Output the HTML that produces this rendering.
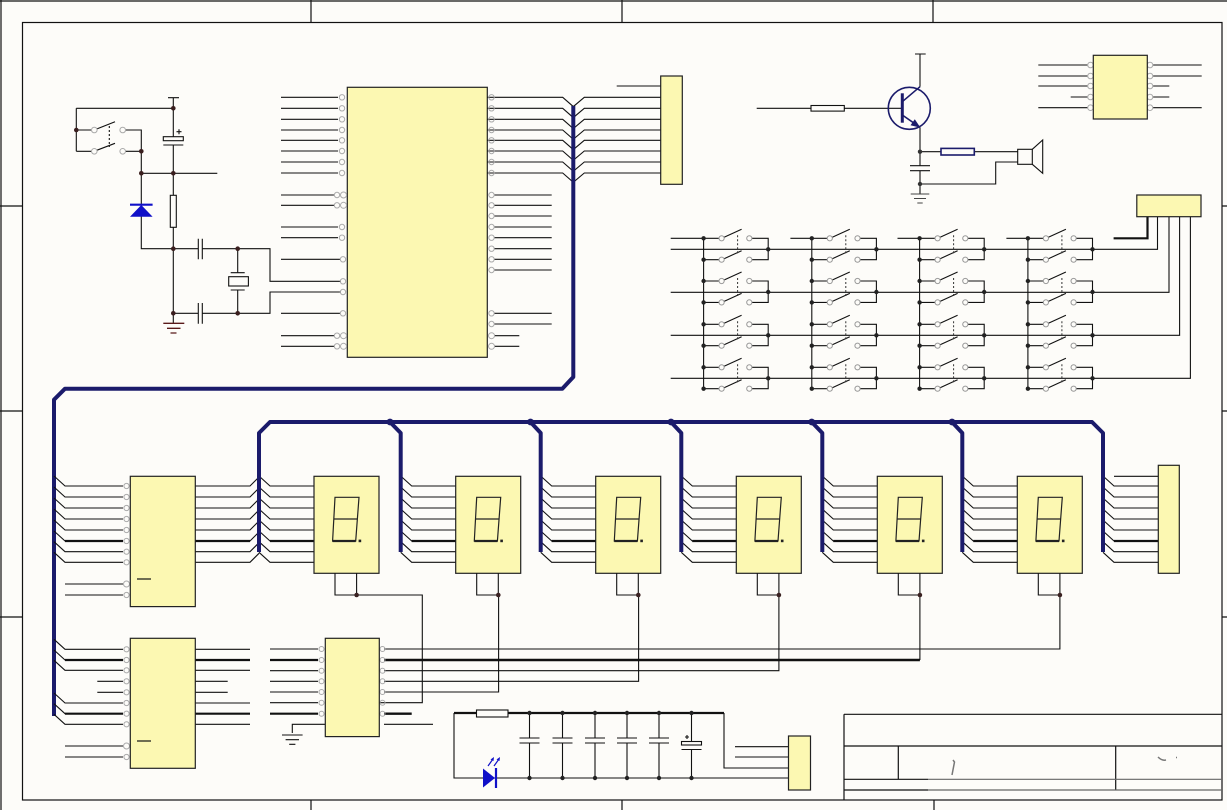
<!DOCTYPE html>
<html><head><meta charset="utf-8">
<style>html,body{margin:0;padding:0;background:#fdfcf9;overflow:hidden}svg{display:block}</style>
</head>
<body>
<svg width="1227" height="810" viewBox="0 0 1227 810" xmlns="http://www.w3.org/2000/svg">
<defs>
  <g id="disp">
    <path d="M0 476L11 486H55 M0 487L11 497H55 M0 498L11 508H55 M0 509L11 519H55 M0 520L11 530H55 M0 531L11 541H55 M0 541.7L11 551.7H55 M0 552.3L11 562.3H55" fill="none" stroke="#111" stroke-width="1.1"/>
    <path d="M11 541H55" stroke="#111" stroke-width="2.2"/>
    <rect x="55" y="476.3" width="65" height="97" fill="#fcf8b2" stroke="#222" stroke-width="1.2"/>
    <path d="M76 497.3H100L96.7 541H73.6Z M74.8 519H98.3" fill="none" stroke="#222" stroke-width="1.2"/>
    <path d="M73.6 541H96.7" stroke="#222" stroke-width="2.2"/>
    <rect x="99.6" y="539.6" width="2.6" height="2.6" fill="#222"/>
    <path d="M76 573.3V595H97.6V573.3" fill="none" stroke="#111" stroke-width="1.1"/>
    <circle cx="97.6" cy="595" r="2.3" fill="#3a2222"/>
  </g>
  <g id="sw">
    <path d="M0 0H15.4 M0 21.4H15.4 M20.5 -1L38 -9 M20.5 20.4L38 12.4 M48.3 0H64.6V21.4H48.3" fill="none" stroke="#111" stroke-width="1.1"/>
    <path d="M34 -3V17" fill="none" stroke="#333" stroke-width="1" stroke-dasharray="2 2"/>
    <g fill="none" stroke="#999" stroke-width="1">
      <circle cx="18" cy="0" r="2.6"/><circle cx="18" cy="21.4" r="2.6"/>
      <circle cx="45.7" cy="0" r="2.6"/><circle cx="45.7" cy="21.4" r="2.6"/>
    </g>
    <g fill="#222"><circle cx="0" cy="0" r="2.2"/><circle cx="0" cy="21.4" r="2.2"/><circle cx="64.6" cy="11" r="2.2"/></g>
  </g>
</defs>

<rect width="1227" height="810" fill="#fdfcf9"/>

<!-- frame -->
<g fill="none" stroke="#111" stroke-width="1.2">
  <path d="M0 1H1227 M1 0V810"/>
  <rect x="22.5" y="22.5" width="1199.5" height="777.5"/>
  <path d="M311 0V22 M622 0V22 M933 0V22 M311 800V810 M622 800V810 M934 800V810 M0 206H22 M0 411H22 M0 617H22 M1222 206H1227 M1222 411H1227 M1222 617H1227"/>
</g>

<!-- title block -->
<g fill="none" stroke="#111" stroke-width="1.2">
  <path d="M844 714.3H1222 M844 714.3V800 M844 746H1222 M898.3 746V779.3 M1115.7 746V790 M844 779.3H928 M844 790H928"/>
  <path d="M928 779.3H1222 M928 790H1222" stroke="#666"/>
  <path d="M953 760L954.5 762L952 775 M1158 757Q1162 761 1166 760 M1176 757.5h1" stroke="#777" stroke-width="1.5"/>
</g>

<!-- top-left reset / crystal circuit -->
<g fill="none" stroke="#111" stroke-width="1.1">
  <path d="M168 97.7H179 M173.3 97.7V136.7 M173.3 145V195.3 M173.3 227.3V323.3"/>
  <rect x="163.3" y="136.7" width="20" height="4"/>
  <path d="M163.3 145H183.3"/>
  <path d="M176.5 131.7H181.5 M179 129.2V134.2"/>
  <path d="M76.3 108.3H173.3 M76.3 108.3V151.3 M76.3 130H91.6 M76.3 151.3H91.6"/>
  <path d="M96.7 129L115 121.7 M96.7 150.3L115 143.3"/>
  <path d="M109.3 126V147" stroke-dasharray="2 2"/>
  <path d="M125.5 130H141.3V248.7H173.3 M125.5 151.3H141.3 M141.3 173.3H217.3"/>
  <rect x="170.3" y="195.3" width="6" height="32" fill="#fdfcf9"/>
  <path d="M173.3 248.7H198.3 M202.3 248.7H270V281.3H341 M173.3 313.3H198.3 M202.3 313.3H270V292H341"/>
  <path d="M198.3 238.7V259.3 M202.3 238.7V259.3 M198.3 303V323.7 M202.3 303V323.7"/>
  <path d="M237.7 248.7V272.7 M230.7 272.7H244.7 M230.7 290H244.7 M237.7 290V313.3"/>
  <rect x="228.7" y="276.7" width="19.7" height="9.3"/>
  <path d="M163.3 323.3H184.3 M167 328.3H180.5 M170.5 333H176.5" stroke="#5a1a1a" stroke-width="1.3"/>
</g>
<g fill="none" stroke="#aaa" stroke-width="1">
  <circle cx="94.3" cy="130" r="2.8"/><circle cx="94.3" cy="151.3" r="2.8"/>
  <circle cx="122.7" cy="130" r="2.8"/><circle cx="122.7" cy="151.3" r="2.8"/>
</g>
<polygon points="141.3,205 130,216.7 152.6,216.7" fill="#1010c8"/>
<path d="M130 204.7H152.6" stroke="#1010c8" stroke-width="2.2"/>
<g fill="#3a1e1e">
  <circle cx="76.3" cy="130" r="2.3"/><circle cx="141.3" cy="151.3" r="2.3"/><circle cx="141.3" cy="173.3" r="2.3"/>
  <circle cx="173.3" cy="173.3" r="2.3"/><circle cx="173.3" cy="108.3" r="2.3"/><circle cx="173.3" cy="248.7" r="2.3"/>
  <circle cx="237.7" cy="248.7" r="2.3"/><circle cx="173.3" cy="313.3" r="2.3"/><circle cx="237.7" cy="313.3" r="2.3"/>
</g>

<!-- main IC -->
<rect x="347.3" y="87.3" width="140" height="270" fill="#fcf8b2" stroke="#222" stroke-width="1.2"/>
<g fill="none" stroke="#111" stroke-width="1.1">
  <path d="M281 97.3H338 M281 108.3H338 M281 119.3H338 M281 130H338 M281 140.3H338 M281 151H338 M281 162H338 M281 173H338 M281 195H334 M281 205.3H334 M281 227H338 M281 237.7H338 M281 259.3H340 M281 313.3H340 M281 335.7H334 M281 346.3H334"/>
  <path d="M487.3 97.3H562.7L573.3 106.6L584.3 97.3H660.7 M487.3 108.3H562.7L573.3 117.6L584.3 108.3H660.7 M487.3 119.3H562.7L573.3 128.6L584.3 119.3H660.7 M487.3 130H562.7L573.3 139.3L584.3 130H660.7 M487.3 140.3H562.7L573.3 149.6L584.3 140.3H660.7 M487.3 151H562.7L573.3 160.3L584.3 151H660.7 M487.3 162H562.7L573.3 171.3L584.3 162H660.7 M487.3 173H562.7L573.3 182.3L584.3 173H660.7"/>
  <path d="M494 195H551.7 M494 205.3H551.7 M494 216H551.7 M494 227H551.7 M494 237.7H551.7 M494 248.7H551.7 M494 259.3H551.7 M494 270H551.7 M494 313.3H551.7 M494 324H551.7 M494 335.7H519.3 M494 346.3H519.3"/>
  <path d="M616.7 86H660.7"/>
</g>
<g fill="none" stroke="#aaa" stroke-width="1">
  <circle cx="342" cy="97.3" r="2.7"/><circle cx="342" cy="108.3" r="2.7"/><circle cx="342" cy="119.3" r="2.7"/><circle cx="342" cy="130" r="2.7"/>
  <circle cx="342" cy="140.3" r="2.7"/><circle cx="342" cy="151" r="2.7"/><circle cx="342" cy="162" r="2.7"/><circle cx="342" cy="173" r="2.7"/>
  <circle cx="337" cy="195" r="2.7"/><circle cx="343.5" cy="195" r="3"/><circle cx="337" cy="205.3" r="2.7"/><circle cx="343.5" cy="205.3" r="3"/>
  <circle cx="342" cy="227" r="2.7"/><circle cx="342" cy="237.7" r="2.7"/><circle cx="343" cy="259.3" r="2.7"/>
  <circle cx="343" cy="281.3" r="2.7"/><circle cx="343" cy="292" r="2.7"/><circle cx="343" cy="313.3" r="2.7"/>
  <circle cx="337" cy="335.7" r="2.7"/><circle cx="343.5" cy="335.7" r="3"/><circle cx="337" cy="346.3" r="2.7"/><circle cx="343.5" cy="346.3" r="3"/>
  <circle cx="491.5" cy="97.3" r="2.7"/><circle cx="491.5" cy="108.3" r="2.7"/><circle cx="491.5" cy="119.3" r="2.7"/><circle cx="491.5" cy="130" r="2.7"/>
  <circle cx="491.5" cy="140.3" r="2.7"/><circle cx="491.5" cy="151" r="2.7"/><circle cx="491.5" cy="162" r="2.7"/><circle cx="491.5" cy="173" r="2.7"/>
  <circle cx="491.5" cy="195" r="2.7"/><circle cx="491.5" cy="205.3" r="2.7"/><circle cx="491.5" cy="216" r="2.7"/><circle cx="491.5" cy="227" r="2.7"/>
  <circle cx="491.5" cy="237.7" r="2.7"/><circle cx="491.5" cy="248.7" r="2.7"/><circle cx="491.5" cy="259.3" r="2.7"/><circle cx="491.5" cy="270" r="2.7"/>
  <circle cx="491.5" cy="313.3" r="2.7"/><circle cx="491.5" cy="324" r="2.7"/><circle cx="491.5" cy="335.7" r="3"/><circle cx="491.5" cy="346.3" r="3"/>
</g>
<rect x="660.7" y="76" width="21.6" height="108.3" fill="#fcf8b2" stroke="#222" stroke-width="1.2"/>

<!-- main bus -->
<path d="M573.3 106V377L562.3 388.7H65L54 399.7V716" fill="none" stroke="#1b1b6b" stroke-width="4" stroke-linejoin="round"/>

<!-- transistor / buzzer -->
<g fill="none" stroke="#111" stroke-width="1.1">
  <path d="M915 54H925.7 M920 54V86.7 M756.7 108.3H811 M844.3 108.3H902.3"/>
  <rect x="811" y="105.5" width="33.3" height="5.6"/>
  <path d="M920 127.3V165.7 M910 165.7H930 M910 170.7H930 M920 170.7V194"/>
  <path d="M920 151.7H941 M974.3 151.7H1017.7 M920 184H995.7V162H1017.7"/>
  <rect x="1017.7" y="149.3" width="14.6" height="15"/>
  <path d="M1032.3 149.3L1042.7 140V173.3L1032.3 164.3"/>
  <path d="M910.7 194H929.3 M914 198.5H926 M917.3 203H922.7" stroke="#444"/>
</g>
<rect x="941" y="148.4" width="33.3" height="6.6" fill="none" stroke="#1b1b6b" stroke-width="1.6"/>
<circle cx="909.3" cy="108.3" r="21" fill="none" stroke="#1b1b6b" stroke-width="1.6"/>
<path d="M902.3 93.3V122.7" stroke="#1b1b6b" stroke-width="3"/>
<path d="M902.3 101.7L920 86.7 M902.3 115L920 127.3" fill="none" stroke="#1b1b6b" stroke-width="1.6"/>
<polygon points="920.5,127.8 910.5,125.2 914.8,119.3" fill="#1b1b6b"/>
<g fill="#333"><circle cx="920" cy="151.7" r="2.2"/><circle cx="920" cy="184" r="2.2"/></g>

<!-- 8-pin IC -->
<g fill="none" stroke="#111" stroke-width="1.1">
  <path d="M1038.3 65H1088 M1038.3 76H1088 M1038.3 86H1088 M1070.7 97H1088 M1038.3 107.7H1088 M1152.6 65H1201.7 M1152.6 76H1201.7 M1152.6 86H1169.3 M1152.6 97H1169.3 M1152.6 107.7H1201.7"/>
</g>
<g fill="none" stroke="#aaa" stroke-width="1">
  <circle cx="1090.5" cy="65" r="2.8"/><circle cx="1090.5" cy="76" r="2.8"/><circle cx="1090.5" cy="86" r="2.8"/><circle cx="1090.5" cy="97" r="2.8"/><circle cx="1090.5" cy="107.7" r="2.8"/>
  <circle cx="1150" cy="65" r="2.8"/><circle cx="1150" cy="76" r="2.8"/><circle cx="1150" cy="86" r="2.8"/><circle cx="1150" cy="97" r="2.8"/><circle cx="1150" cy="107.7" r="2.8"/>
</g>
<rect x="1093.3" y="55.3" width="54" height="63.7" fill="#fcf8b2" stroke="#222" stroke-width="1.2"/>

<!-- keypad -->
<g fill="none" stroke="#111" stroke-width="1.1">
  <path d="M670.7 238.3H703.6 M790.4 238.3H811.8 M897.5 238.3H919.6 M1006.4 238.3H1027.9"/>
  <path d="M670.7 249.3H1157.5V216.7 M670.7 292.3H1169V216.7 M670.7 335.3H1179.6V216.7 M670.7 378.3H1190.4V216.7"/>
  <path d="M703.6 238.3V388.7 M811.8 238.3V388.7 M919.6 238.3V388.7 M1027.9 238.3V388.7"/>
  <path d="M1113.6 238.3H1147.5V216.7" stroke-width="2.2"/>
</g>
<use href="#sw" x="703.6" y="238.3"/><use href="#sw" x="703.6" y="281"/><use href="#sw" x="703.6" y="324.3"/><use href="#sw" x="703.6" y="367.3"/>
<use href="#sw" x="811.8" y="238.3"/><use href="#sw" x="811.8" y="281"/><use href="#sw" x="811.8" y="324.3"/><use href="#sw" x="811.8" y="367.3"/>
<use href="#sw" x="919.6" y="238.3"/><use href="#sw" x="919.6" y="281"/><use href="#sw" x="919.6" y="324.3"/><use href="#sw" x="919.6" y="367.3"/>
<use href="#sw" x="1027.9" y="238.3"/><use href="#sw" x="1027.9" y="281"/><use href="#sw" x="1027.9" y="324.3"/><use href="#sw" x="1027.9" y="367.3"/>
<rect x="1136.8" y="195" width="64.2" height="21.7" fill="#fcf8b2" stroke="#222" stroke-width="1.2"/>

<!-- IC1 -->
<g fill="none" stroke="#111" stroke-width="1.1">
  <path d="M54 476L65 486H123 M54 487L65 497H123 M54 498L65 508H123 M54 509L65 519H123 M54 520L65 530H123 M54 531L65 541H123 M54 541.7L65 551.7H123 M54 552.3L65 562.3H123 M65 584H123 M65 595H123"/>
  <path d="M195.3 486H250L259 477 M195.3 497H250L259 488 M195.3 508H250L259 499 M195.3 519H250L259 510 M195.3 530H250L259 521 M195.3 541H250L259 532 M195.3 551.7H250L259 542.7 M195.3 562.3H250L259 553.3"/>
  <path d="M65 541H123 M195.3 541H250" stroke-width="2.2"/>
</g>
<g fill="none" stroke="#aaa" stroke-width="1">
  <circle cx="126.5" cy="486" r="2.6"/><circle cx="126.5" cy="497" r="2.6"/><circle cx="126.5" cy="508" r="2.6"/><circle cx="126.5" cy="519" r="2.6"/>
  <circle cx="126.5" cy="530" r="2.6"/><circle cx="126.5" cy="541" r="2.6"/><circle cx="126.5" cy="551.7" r="2.6"/><circle cx="126.5" cy="562.3" r="2.6"/>
  <circle cx="126.5" cy="584" r="3"/><circle cx="126.5" cy="595" r="2.6"/>
</g>
<rect x="130.3" y="476.3" width="65" height="130.3" fill="#fcf8b2" stroke="#222" stroke-width="1.2"/>
<path d="M137 579H151" stroke="#111" stroke-width="1.2"/>

<!-- IC2 -->
<g fill="none" stroke="#111" stroke-width="1.1">
  <path d="M54 639.3L65 649.3H123 M54 650L65 660H123 M54 660.3L65 670.3H123 M54 693L65 703H123 M54 703.7L65 713.7H123 M54 714.3L65 724.3H123 M97.3 681.3H123 M97.3 692.3H123 M65 746H123 M65 757H123"/>
  <path d="M195.3 649.3H250 M195.3 670.3H250 M195.3 681.3H227.7 M195.3 692.3H227.7 M195.3 703H250 M195.3 724.3H250"/>
  <path d="M65 660H123 M65 713.7H123 M195.3 660H250 M195.3 713.7H250" stroke-width="2.2"/>
</g>
<g fill="none" stroke="#aaa" stroke-width="1">
  <circle cx="126.5" cy="649.3" r="2.6"/><circle cx="126.5" cy="660" r="2.6"/><circle cx="126.5" cy="670.3" r="2.6"/><circle cx="126.5" cy="681.3" r="2.6"/>
  <circle cx="126.5" cy="692.3" r="2.6"/><circle cx="126.5" cy="703" r="2.6"/><circle cx="126.5" cy="713.7" r="2.6"/><circle cx="126.5" cy="724.3" r="2.6"/>
  <circle cx="126.5" cy="746" r="3"/><circle cx="126.5" cy="757" r="2.6"/>
</g>
<rect x="130.3" y="638.3" width="65" height="130" fill="#fcf8b2" stroke="#222" stroke-width="1.2"/>
<path d="M137 741H151" stroke="#111" stroke-width="1.2"/>

<!-- IC4 -->
<g fill="none" stroke="#111" stroke-width="1.1">
  <path d="M270 649H318 M270 670.7H318 M270 681.3H318 M270 692H318 M270 702.7H318"/>
  <path d="M270 660H318 M270 713.7H318" stroke-width="2.2"/>
  <path d="M325.3 724.3H292.3V733 M282 735H302.6 M285.6 739.7H299 M289.2 744.3H295.4"/>
  <path d="M384 649H1059.9V595 M384 670.7H778.9V595 M384 681.3H638.6V595 M384 692H498.6V595 M379.3 702.7H422.3V595H356.6 M384 724.3H433"/>
  <path d="M384 660H919.9 M384 713.7H411.7" stroke-width="2.4"/>
  <path d="M919.9 660V595"/>
</g>
<g fill="none" stroke="#aaa" stroke-width="1">
  <circle cx="321.5" cy="649" r="2.5"/><circle cx="321.5" cy="660" r="2.5"/><circle cx="321.5" cy="670.7" r="2.5"/><circle cx="321.5" cy="681.3" r="2.5"/>
  <circle cx="321.5" cy="692" r="2.5"/><circle cx="321.5" cy="702.7" r="2.5"/><circle cx="321.5" cy="713.7" r="2.5"/>
  <circle cx="382.5" cy="649" r="2.5"/><circle cx="382.5" cy="660" r="2.5"/><circle cx="382.5" cy="670.7" r="2.5"/><circle cx="382.5" cy="681.3" r="2.5"/>
  <circle cx="382.5" cy="692" r="2.5"/><circle cx="382.5" cy="702.7" r="2.5"/><circle cx="382.5" cy="713.7" r="2.5"/>
</g>
<rect x="325.3" y="638.3" width="54" height="98.3" fill="#fcf8b2" stroke="#222" stroke-width="1.2"/>

<!-- displays -->
<use href="#disp" x="259"/>
<use href="#disp" x="400.7"/>
<use href="#disp" x="540.7"/>
<use href="#disp" x="681.3"/>
<use href="#disp" x="822.3"/>
<use href="#disp" x="962.3"/>

<!-- right connector -->
<g fill="none" stroke="#111" stroke-width="1.1">
  <path d="M1114 476.3H1158.3 M1103 476L1114 486H1158.3 M1103 487L1114 497H1158.3 M1103 498L1114 508H1158.3 M1103 509L1114 519H1158.3 M1103 520L1114 530H1158.3 M1103 531L1114 541H1158.3 M1103 541.7L1114 551.7H1158.3 M1103 552.3L1114 562.3H1158.3"/>
  <path d="M1114 541H1158.3" stroke-width="2.2"/>
</g>
<rect x="1158.3" y="465.3" width="21" height="108" fill="#fcf8b2" stroke="#222" stroke-width="1.2"/>

<!-- display bus -->
<g fill="none" stroke="#1b1b6b" stroke-width="4" stroke-linejoin="round">
  <path d="M259 552V433L270 422H1092L1103 433V552"/>
  <path d="M390 422L400.7 433V552 M530.5 422L540.7 433V552 M671 422L681.3 433V552 M811.7 422L822.3 433V552 M952 422L962.3 433V552"/>
</g>
<g fill="#1b1b6b">
  <circle cx="390" cy="422" r="3.4"/><circle cx="530.5" cy="422" r="3.4"/><circle cx="671" cy="422" r="3.4"/><circle cx="811.7" cy="422" r="3.4"/><circle cx="952" cy="422" r="3.4"/>
</g>

<!-- power filter section -->
<g fill="none" stroke="#111" stroke-width="1.1">
  <path d="M454 713V778H788.5 M724 713V768H788.5 M735 746.7H788.5 M735 757H788.5"/>
  <path d="M454 713H476.5 M508 713H724" stroke-width="2.2"/>
  <rect x="476.5" y="710" width="31.5" height="7" fill="#fdfcf9"/>
  <path d="M529.5 713V738 M519.5 738H539.5 M519.5 743H539.5 M529.5 743V778"/>
  <path d="M562.5 713V738 M552.5 738H572.5 M552.5 743H572.5 M562.5 743V778"/>
  <path d="M595 713V738 M585 738H605 M585 743H605 M595 743V778"/>
  <path d="M627 713V738 M617 738H637 M617 743H637 M627 743V778"/>
  <path d="M659 713V738 M649 738H669 M649 743H669 M659 743V778"/>
  <path d="M691.5 713V741.5 M691.5 749.5V778 M681.5 749.5H701.5"/>
  <rect x="681.5" y="741.5" width="20" height="3.5"/>
  <path d="M685 737H689 M687 735V739"/>
</g>
<g fill="#222">
  <circle cx="529.5" cy="713" r="2.2"/><circle cx="562.5" cy="713" r="2.2"/><circle cx="595" cy="713" r="2.2"/><circle cx="627" cy="713" r="2.2"/><circle cx="659" cy="713" r="2.2"/><circle cx="691.5" cy="713" r="2.2"/>
  <circle cx="529.5" cy="778" r="2.2"/><circle cx="562.5" cy="778" r="2.2"/><circle cx="595" cy="778" r="2.2"/><circle cx="627" cy="778" r="2.2"/><circle cx="659" cy="778" r="2.2"/><circle cx="691.5" cy="778" r="2.2"/>
</g>
<polygon points="483,768.5 483,787.5 495,778" fill="#1010c8"/>
<path d="M496 768V788" stroke="#1010c8" stroke-width="2.2"/>
<path d="M488 766L493 759 M494 766L499 759" stroke="#1010c8" stroke-width="1.2" fill="none"/>
<polygon points="494,757 490.5,759.5 493.5,761" fill="#1010c8"/>
<polygon points="500,757 496.5,759.5 499.5,761" fill="#1010c8"/>
<rect x="788.5" y="736" width="22" height="54" fill="#fcf8b2" stroke="#222" stroke-width="1.2"/>
</svg>
</body></html>
